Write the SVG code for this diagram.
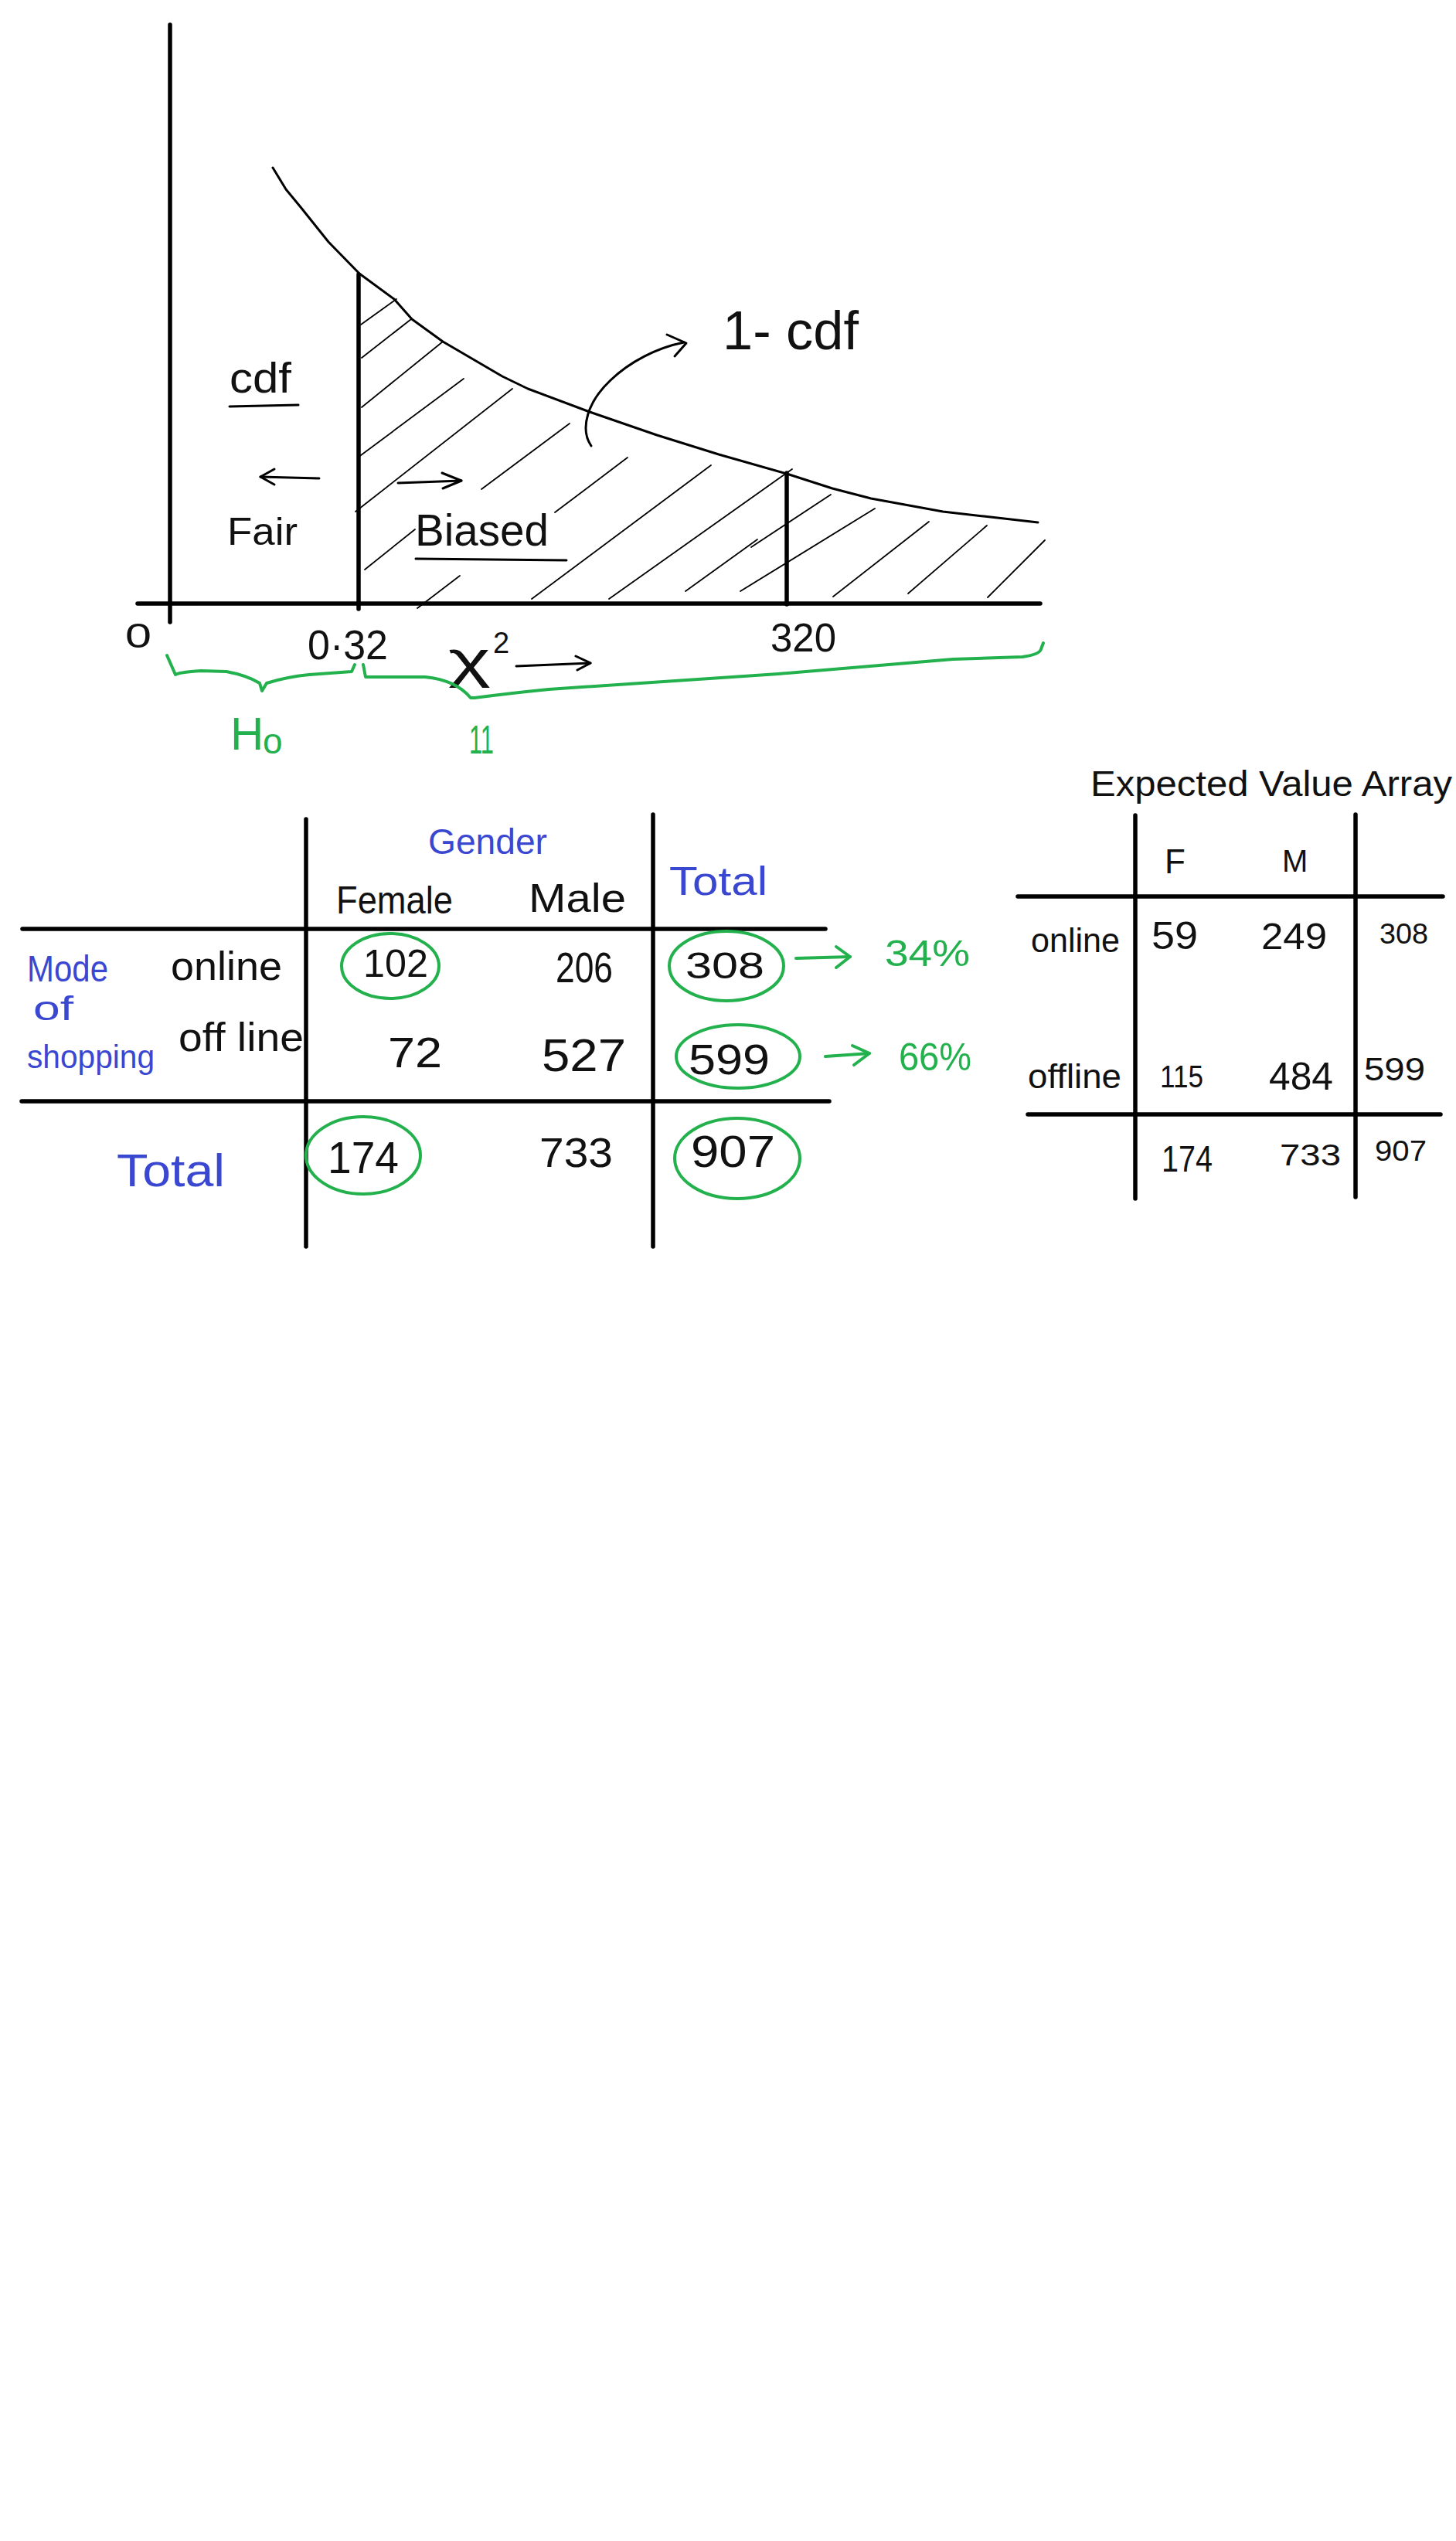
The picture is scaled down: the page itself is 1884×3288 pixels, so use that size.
<svg xmlns="http://www.w3.org/2000/svg" width="1884" height="3288" viewBox="0 0 1884 3288">
<style>
text{font-family:"Liberation Sans","DejaVu Sans",sans-serif;fill:#111}
.b{fill:#3a47d0}
.g{fill:#22b14c}
.ax{stroke:#000;stroke-width:5.5;stroke-linecap:round;fill:none}
.ln{stroke:#000;stroke-width:3;fill:none;stroke-linecap:round;stroke-linejoin:round}
.ht{stroke:#000;stroke-width:1.8;fill:none;stroke-linecap:round}
.gr{stroke:#22b14c;stroke-width:4;fill:none;stroke-linecap:round;stroke-linejoin:round}
.tb{stroke:#000;stroke-width:5.5;stroke-linecap:round}
</style>
<rect width="1884" height="3288" fill="#fff"/>

<g id="chart">
  <line class="ax" x1="220" y1="32" x2="220" y2="805"/>
  <line class="ax" x1="178" y1="781" x2="1346" y2="781"/>
  <line class="ax" x1="464" y1="355" x2="464" y2="788"/>
  <line class="ax" x1="1018" y1="612" x2="1018" y2="782"/>
  <path class="ln" d="M353,217 L370,245 L389,268 L425,313 L465,354 L510,387 L533,413 L573,442 L650,487 L683,503 L763,533 L850,563 L930,588 L1018,613 L1077,632 L1127,645 L1220,662 L1273,668 L1343,676"/>
  <g id="hatch">
    <line class="ht" x1="467" y1="420" x2="513" y2="387"/>
    <line class="ht" x1="468" y1="463" x2="532" y2="413"/>
    <line class="ht" x1="468" y1="527" x2="573" y2="442"/>
    <line class="ht" x1="463" y1="592" x2="600" y2="490"/>
    <line class="ht" x1="460" y1="662" x2="663" y2="503"/>
    <line class="ht" x1="623" y1="633" x2="737" y2="548"/>
    <line class="ht" x1="472" y1="737" x2="537" y2="685"/>
    <line class="ht" x1="540" y1="787" x2="595" y2="745"/>
    <line class="ht" x1="718" y1="663" x2="812" y2="592"/>
    <line class="ht" x1="688" y1="775" x2="920" y2="602"/>
    <line class="ht" x1="788" y1="775" x2="1025" y2="607"/>
    <line class="ht" x1="887" y1="765" x2="980" y2="698"/>
    <line class="ht" x1="972" y1="708" x2="1075" y2="640"/>
    <line class="ht" x1="958" y1="765" x2="1132" y2="658"/>
    <line class="ht" x1="1078" y1="772" x2="1202" y2="675"/>
    <line class="ht" x1="1175" y1="768" x2="1277" y2="680"/>
    <line class="ht" x1="1278" y1="773" x2="1352" y2="699"/>
  </g>
  <text x="162" y="838" font-size="44" textLength="34" lengthAdjust="spacingAndGlyphs">0</text>
  <text x="398" y="853" font-size="54" textLength="104" lengthAdjust="spacingAndGlyphs">0·32</text>
  <text x="997" y="843" font-size="52" textLength="85" lengthAdjust="spacingAndGlyphs">320</text>
  <text x="580" y="876" font-size="66" textLength="55" lengthAdjust="spacingAndGlyphs">χ</text>
  <text x="638" y="845" font-size="38">2</text>
  <line class="ln" x1="668" y1="862" x2="764" y2="858"/>
  <polyline class="ln" points="745,849 764,858 747,867"/>
  <text x="297" y="508" font-size="56" textLength="80" lengthAdjust="spacingAndGlyphs">cdf</text>
  <line class="ln" x1="297" y1="526" x2="386" y2="524"/>
  <line class="ln" x1="337" y1="617" x2="413" y2="619"/>
  <polyline class="ln" points="355,607 337,617 355,627"/>
  <text x="294" y="705" font-size="50" textLength="91" lengthAdjust="spacingAndGlyphs">Fair</text>
  <line class="ln" x1="515" y1="625" x2="597" y2="622"/>
  <polyline class="ln" points="572,612 597,622 573,632"/>
  <text x="537" y="706" font-size="58" textLength="173" lengthAdjust="spacingAndGlyphs">Biased</text>
  <line class="ln" x1="538" y1="723" x2="733" y2="725"/>
  <text x="935" y="452" font-size="70" textLength="176" lengthAdjust="spacingAndGlyphs">1- cdf</text>
  <path class="ln" d="M765,577 C750,555 760,520 790,492 C815,468 850,450 885,443"/>
  <polyline class="ln" points="863,433 888,444 873,461"/>
  <path class="gr" d="M216,848 L227,873 Q232,870 260,868 L293,869 Q320,874 336,884 L339,894 L345,884 Q370,876 400,873 L455,869 L459,860"/>
  <path class="gr" d="M470,860 L473,876 L550,876 Q590,880 609,903 L614,903 Q660,897 710,892 L1007,872 L1233,853 L1323,850 Q1345,847 1347,840 L1350,832"/>
  <text x="298" y="970" font-size="60" class="g">H</text>
  <text x="340" y="975" font-size="46" class="g">o</text>
  <text x="607" y="975" font-size="52" class="g" textLength="32" lengthAdjust="spacingAndGlyphs">11</text>
</g>

<g id="observed-table">
  <line class="tb" x1="396" y1="1060" x2="396" y2="1613"/>
  <line class="tb" x1="845" y1="1054" x2="845" y2="1613"/>
  <line class="tb" x1="29" y1="1202" x2="1068" y2="1202"/>
  <line class="tb" x1="28" y1="1425" x2="1073" y2="1425"/>
  <text x="554" y="1105" font-size="46" class="b" textLength="154" lengthAdjust="spacingAndGlyphs">Gender</text>
  <text x="866" y="1158" font-size="52" class="b" textLength="127" lengthAdjust="spacingAndGlyphs">Total</text>
  <text x="435" y="1182" font-size="50" textLength="151" lengthAdjust="spacingAndGlyphs">Female</text>
  <text x="684" y="1180" font-size="52" textLength="126" lengthAdjust="spacingAndGlyphs">Male</text>
  <text x="35" y="1270" font-size="48" class="b" textLength="105" lengthAdjust="spacingAndGlyphs">Mode</text>
  <text x="43" y="1320" font-size="44" class="b" textLength="52" lengthAdjust="spacingAndGlyphs">of</text>
  <text x="35" y="1382" font-size="42" class="b" textLength="165" lengthAdjust="spacingAndGlyphs">shopping</text>
  <text x="221" y="1268" font-size="52" textLength="144" lengthAdjust="spacingAndGlyphs">online</text>
  <text x="231" y="1360" font-size="52" textLength="162" lengthAdjust="spacingAndGlyphs">off line</text>
  <text x="470" y="1264" font-size="50" textLength="84" lengthAdjust="spacingAndGlyphs">102</text>
  <text x="719" y="1271" font-size="56" textLength="74" lengthAdjust="spacingAndGlyphs">206</text>
  <text x="887" y="1266" font-size="48" textLength="102" lengthAdjust="spacingAndGlyphs">308</text>
  <text x="502" y="1381" font-size="56" textLength="70" lengthAdjust="spacingAndGlyphs">72</text>
  <text x="701" y="1386" font-size="60" textLength="109" lengthAdjust="spacingAndGlyphs">527</text>
  <text x="891" y="1390" font-size="56" textLength="105" lengthAdjust="spacingAndGlyphs">599</text>
  <text x="151" y="1535" font-size="60" class="b" textLength="140" lengthAdjust="spacingAndGlyphs">Total</text>
  <text x="424" y="1518" font-size="58" textLength="92" lengthAdjust="spacingAndGlyphs">174</text>
  <text x="698" y="1510" font-size="54" textLength="95" lengthAdjust="spacingAndGlyphs">733</text>
  <text x="894" y="1510" font-size="58" textLength="109" lengthAdjust="spacingAndGlyphs">907</text>
  <ellipse class="gr" cx="505" cy="1250" rx="63" ry="42"/>
  <ellipse class="gr" cx="940" cy="1250" rx="74" ry="45"/>
  <ellipse class="gr" cx="955" cy="1367" rx="80" ry="41"/>
  <ellipse class="gr" cx="470" cy="1495" rx="74" ry="50"/>
  <ellipse class="gr" cx="954" cy="1499" rx="81" ry="52"/>
  <line class="gr" x1="1030" y1="1240" x2="1100" y2="1238"/>
  <polyline class="gr" points="1082,1225 1100,1238 1082,1252"/>
  <text x="1145" y="1250" font-size="48" class="g" textLength="110" lengthAdjust="spacingAndGlyphs">34%</text>
  <line class="gr" x1="1068" y1="1367" x2="1125" y2="1363"/>
  <polyline class="gr" points="1103,1353 1125,1363 1105,1378"/>
  <text x="1163" y="1385" font-size="50" class="g" textLength="94" lengthAdjust="spacingAndGlyphs">66%</text>
</g>

<g id="expected-table">
  <text x="1411" y="1030" font-size="46" textLength="468" lengthAdjust="spacingAndGlyphs">Expected Value Array</text>
  <line class="tb" x1="1469" y1="1055" x2="1469" y2="1551"/>
  <line class="tb" x1="1754" y1="1054" x2="1754" y2="1549"/>
  <line class="tb" x1="1317" y1="1160" x2="1867" y2="1160"/>
  <line class="tb" x1="1330" y1="1442" x2="1864" y2="1442"/>
  <text x="1507" y="1130" font-size="44">F</text>
  <text x="1659" y="1128" font-size="40">M</text>
  <text x="1334" y="1232" font-size="44" textLength="115" lengthAdjust="spacingAndGlyphs">online</text>
  <text x="1490" y="1228" font-size="50" textLength="60" lengthAdjust="spacingAndGlyphs">59</text>
  <text x="1632" y="1228" font-size="48" textLength="85" lengthAdjust="spacingAndGlyphs">249</text>
  <text x="1785" y="1221" font-size="36" textLength="63" lengthAdjust="spacingAndGlyphs">308</text>
  <text x="1330" y="1408" font-size="44" textLength="121" lengthAdjust="spacingAndGlyphs">offline</text>
  <text x="1501" y="1407" font-size="40" textLength="56" lengthAdjust="spacingAndGlyphs">115</text>
  <text x="1642" y="1410" font-size="50" textLength="83" lengthAdjust="spacingAndGlyphs">484</text>
  <text x="1765" y="1398" font-size="42" textLength="79" lengthAdjust="spacingAndGlyphs">599</text>
  <text x="1503" y="1516" font-size="48" textLength="66" lengthAdjust="spacingAndGlyphs">174</text>
  <text x="1656" y="1508" font-size="38" textLength="79" lengthAdjust="spacingAndGlyphs">733</text>
  <text x="1779" y="1502" font-size="36" textLength="67" lengthAdjust="spacingAndGlyphs">907</text>
</g>
</svg>
